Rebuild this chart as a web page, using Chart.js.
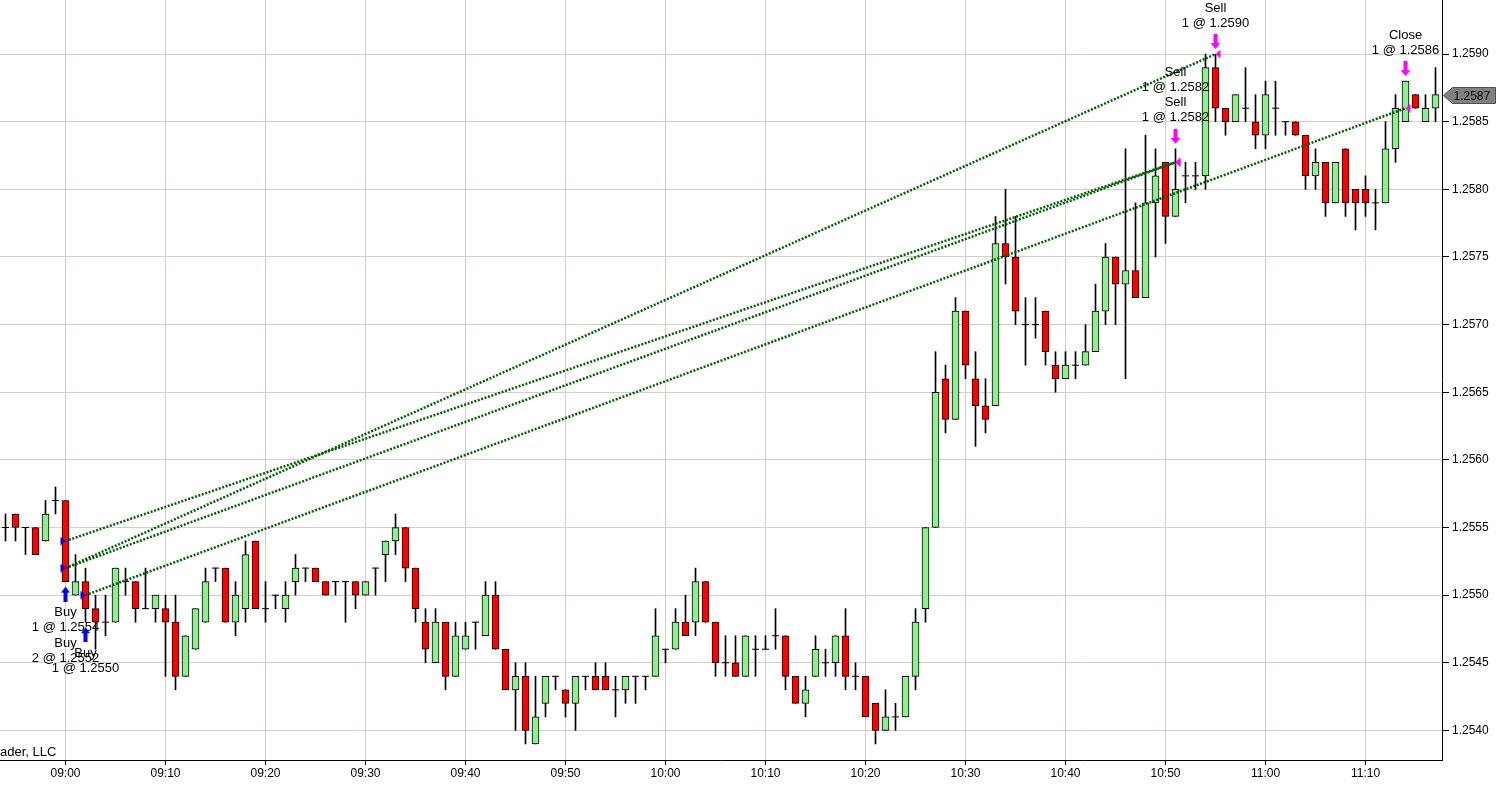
<!DOCTYPE html>
<html>
<head>
<meta charset="utf-8">
<title>1 minute chart</title>
<script src="https://cdn.jsdelivr.net/npm/chart.js@4/dist/chart.umd.min.js"></script>
<style>
  html, body { margin: 0; padding: 0; background: #fff; overflow: hidden; }
  #wrap { width: 1497px; height: 790px; }
</style>
</head>
<body>
<div id="wrap"><canvas id="myChart"></canvas></div>
<script>
// 1 minute bars, 08:54 - 11:17
const times = [
  '08:54','08:55','08:56','08:57','08:58','08:59',
  '09:00','09:01','09:02','09:03','09:04','09:05','09:06','09:07','09:08','09:09',
  '09:10','09:11','09:12','09:13','09:14','09:15','09:16','09:17','09:18','09:19',
  '09:20','09:21','09:22','09:23','09:24','09:25','09:26','09:27','09:28','09:29',
  '09:30','09:31','09:32','09:33','09:34','09:35','09:36','09:37','09:38','09:39',
  '09:40','09:41','09:42','09:43','09:44','09:45','09:46','09:47','09:48','09:49',
  '09:50','09:51','09:52','09:53','09:54','09:55','09:56','09:57','09:58','09:59',
  '10:00','10:01','10:02','10:03','10:04','10:05','10:06','10:07','10:08','10:09',
  '10:10','10:11','10:12','10:13','10:14','10:15','10:16','10:17','10:18','10:19',
  '10:20','10:21','10:22','10:23','10:24','10:25','10:26','10:27','10:28','10:29',
  '10:30','10:31','10:32','10:33','10:34','10:35','10:36','10:37','10:38','10:39',
  '10:40','10:41','10:42','10:43','10:44','10:45','10:46','10:47','10:48','10:49',
  '10:50','10:51','10:52','10:53','10:54','10:55','10:56','10:57','10:58','10:59',
  '11:00','11:01','11:02','11:03','11:04','11:05','11:06','11:07','11:08','11:09',
  '11:10','11:11','11:12','11:13','11:14','11:15','11:16','11:17'
];
const opens = [
  1.2555,1.2556,1.2555,1.2555,1.2554,1.2557,
  1.2557,1.2550,1.2551,1.2549,1.2548,1.2548,1.2551,1.2551,1.2549,1.2549,
  1.2549,1.2548,1.2544,1.2546,1.2548,1.2552,1.2552,1.2548,1.2549,1.2554,
  1.2549,1.2550,1.2549,1.2551,1.2552,1.2552,1.2551,1.2551,1.2551,1.2551,
  1.2550,1.2552,1.2553,1.2554,1.2555,1.2552,1.2548,1.2545,1.2548,1.2544,
  1.2546,1.2548,1.2547,1.2550,1.2546,1.2543,1.2544,1.2539,1.2542,1.2544,
  1.2543,1.2542,1.2544,1.2544,1.2544,1.2543,1.2543,1.2544,1.2544,1.2544,
  1.2546,1.2546,1.2548,1.2548,1.2551,1.2548,1.2545,1.2545,1.2544,1.2546,
  1.2546,1.2547,1.2547,1.2544,1.2542,1.2544,1.2545,1.2545,1.2547,1.2544,
  1.2544,1.2542,1.2540,1.2541,1.2541,1.2544,1.2549,1.2555,1.2566,1.2563,
  1.2571,1.2566,1.2564,1.2564,1.2576,1.2575,1.2570,1.2570,1.2571,1.2567,
  1.2566,1.2567,1.2567,1.2568,1.2571,1.2575,1.2573,1.2574,1.2572,1.2579,
  1.2582,1.2578,1.2581,1.2581,1.2581,1.2589,1.2586,1.2585,1.2586,1.2585,
  1.2584,1.2586,1.2585,1.2585,1.2584,1.2581,1.2582,1.2579,1.2583,1.2580,
  1.2580,1.2579,1.2579,1.2583,1.2585,1.2587,1.2585,1.2586
];
const highs = [
  1.2556,1.2556,1.2555,1.2555,1.2557,1.2558,
  1.2557,1.2553,1.2552,1.2550,1.2550,1.2552,1.2552,1.2551,1.2552,1.2550,
  1.2550,1.2550,1.2547,1.2549,1.2552,1.2552,1.2552,1.2551,1.2554,1.2554,
  1.2551,1.2550,1.2551,1.2553,1.2552,1.2552,1.2551,1.2551,1.2551,1.2551,
  1.2551,1.2552,1.2554,1.2556,1.2555,1.2552,1.2549,1.2549,1.2548,1.2548,
  1.2548,1.2548,1.2551,1.2551,1.2546,1.2545,1.2545,1.2544,1.2544,1.2544,
  1.2543,1.2544,1.2544,1.2545,1.2545,1.2544,1.2544,1.2544,1.2544,1.2549,
  1.2546,1.2549,1.2550,1.2552,1.2551,1.2548,1.2547,1.2547,1.2547,1.2547,
  1.2547,1.2549,1.2547,1.2544,1.2544,1.2547,1.2546,1.2547,1.2549,1.2545,
  1.2544,1.2542,1.2543,1.2542,1.2544,1.2549,1.2555,1.2568,1.2567,1.2572,
  1.2571,1.2568,1.2566,1.2578,1.2580,1.2578,1.2572,1.2572,1.2571,1.2568,
  1.2568,1.2568,1.2570,1.2573,1.2576,1.2575,1.2583,1.2579,1.2584,1.2583,
  1.2582,1.2583,1.2582,1.2582,1.2590,1.2590,1.2586,1.2587,1.2589,1.2587,
  1.2588,1.2588,1.2585,1.2585,1.2584,1.2583,1.2582,1.2582,1.2583,1.2580,
  1.2581,1.2580,1.2585,1.2587,1.2588,1.2587,1.2587,1.2589
];
const lows = [
  1.2554,1.2554,1.2553,1.2553,1.2554,1.2556,
  1.2551,1.2550,1.2548,1.2546,1.2547,1.2548,1.2550,1.2548,1.2549,1.2548,
  1.2544,1.2543,1.2544,1.2546,1.2548,1.2551,1.2548,1.2547,1.2548,1.2549,
  1.2548,1.2549,1.2548,1.2550,1.2551,1.2551,1.2550,1.2550,1.2548,1.2549,
  1.2550,1.2550,1.2551,1.2553,1.2551,1.2548,1.2545,1.2545,1.2543,1.2544,
  1.2546,1.2546,1.2547,1.2546,1.2543,1.2540,1.2539,1.2539,1.2541,1.2543,
  1.2541,1.2540,1.2543,1.2543,1.2543,1.2541,1.2542,1.2542,1.2543,1.2544,
  1.2545,1.2546,1.2547,1.2547,1.2548,1.2544,1.2544,1.2544,1.2544,1.2544,
  1.2546,1.2546,1.2543,1.2542,1.2541,1.2544,1.2544,1.2544,1.2543,1.2543,
  1.2541,1.2539,1.2540,1.2540,1.2541,1.2543,1.2548,1.2555,1.2562,1.2563,
  1.2566,1.2561,1.2562,1.2564,1.2573,1.2570,1.2567,1.2569,1.2567,1.2565,
  1.2566,1.2566,1.2567,1.2568,1.2570,1.2570,1.2566,1.2572,1.2572,1.2575,
  1.2576,1.2578,1.2579,1.2580,1.2580,1.2585,1.2584,1.2585,1.2585,1.2583,
  1.2583,1.2584,1.2584,1.2584,1.2580,1.2580,1.2578,1.2579,1.2578,1.2577,
  1.2578,1.2577,1.2579,1.2582,1.2585,1.2586,1.2585,1.2585
];
const closes = [
  1.2555,1.2555,1.2555,1.2553,1.2556,1.2557,
  1.2551,1.2551,1.2549,1.2548,1.2548,1.2552,1.2551,1.2549,1.2549,1.2550,
  1.2548,1.2544,1.2547,1.2549,1.2551,1.2552,1.2548,1.2550,1.2553,1.2549,
  1.2549,1.2550,1.2550,1.2552,1.2552,1.2551,1.2550,1.2551,1.2551,1.2550,
  1.2551,1.2552,1.2554,1.2555,1.2552,1.2549,1.2546,1.2548,1.2544,1.2547,
  1.2547,1.2548,1.2550,1.2546,1.2543,1.2544,1.2540,1.2541,1.2544,1.2544,
  1.2542,1.2544,1.2544,1.2543,1.2543,1.2543,1.2544,1.2544,1.2544,1.2547,
  1.2546,1.2548,1.2547,1.2551,1.2548,1.2545,1.2545,1.2544,1.2547,1.2546,
  1.2546,1.2547,1.2544,1.2542,1.2543,1.2546,1.2545,1.2547,1.2544,1.2544,
  1.2541,1.2540,1.2541,1.2541,1.2544,1.2548,1.2555,1.2565,1.2563,1.2571,
  1.2567,1.2564,1.2563,1.2576,1.2575,1.2571,1.2570,1.2570,1.2568,1.2566,
  1.2567,1.2567,1.2568,1.2571,1.2575,1.2573,1.2574,1.2572,1.2579,1.2581,
  1.2578,1.2580,1.2581,1.2581,1.2589,1.2586,1.2585,1.2587,1.2586,1.2584,
  1.2587,1.2586,1.2585,1.2584,1.2581,1.2582,1.2579,1.2582,1.2579,1.2579,
  1.2579,1.2579,1.2583,1.2586,1.2588,1.2586,1.2586,1.2587
];

const timeTicks = ['09:00','09:10','09:20','09:30','09:40','09:50','10:00',
                   '10:10','10:20','10:30','10:40','10:50','11:00','11:10'];
const priceTicks = [1.2540,1.2545,1.2550,1.2555,1.2560,1.2565,
                    1.2570,1.2575,1.2580,1.2585,1.2590];

// executions
const entries = [
  { time: '09:00', side: 'Buy', qty: 1, price: 1.2554 },
  { time: '09:00', side: 'Buy', qty: 2, price: 1.2552 },
  { time: '09:02', side: 'Buy', qty: 1, price: 1.2550 }
];
const exits = [
  { time: '10:51', side: 'Sell', qty: 1, price: 1.2582 },
  { time: '10:51', side: 'Sell', qty: 1, price: 1.2582 },
  { time: '10:55', side: 'Sell', qty: 1, price: 1.2590 },
  { time: '11:14', side: 'Close', qty: 1, price: 1.2586 }
];
// [entry index, exit index]
const tradePairs = [[0, 0], [1, 1], [1, 2], [2, 3]];

const FONT = '"Liberation Sans", Arial, sans-serif';
const GRID = '#d4d0c8';
const UP = '#90ee90';
const DOWN = '#ff0000';
const TRADE_LINE = '#006000';

function toMin(t) {
    const p = t.split(':');
    return +p[0] * 60 + +p[1];
}

// small sprites used as point styles
function sprite(w, h, draw) {
    const c = document.createElement('canvas');
    c.width = w; c.height = h;
    draw(c.getContext('2d'));
    return c;
}
// tip sits at the sprite centre
const entryTri = sprite(12, 9, g => {
    g.fillStyle = '#0000ff';
    g.beginPath(); g.moveTo(1, 0); g.lineTo(6, 4.5); g.lineTo(1, 9); g.closePath(); g.fill();
});
const exitTri = sprite(12, 9, g => {
    g.fillStyle = '#ff00ff';
    g.beginPath(); g.moveTo(11, 0); g.lineTo(6, 4.5); g.lineTo(11, 9); g.closePath(); g.fill();
});
// arrow 5px under the bar low (centre of sprite = bar low)
const upArrow = sprite(11, 40, g => {
    g.fillStyle = '#0000ff';
    g.beginPath(); g.moveTo(5.5, 25); g.lineTo(10, 31); g.lineTo(1, 31); g.closePath(); g.fill();
    g.fillRect(3.5, 31, 4, 9);
});
// arrow 5px above the bar high
const downArrow = sprite(11, 40, g => {
    g.fillStyle = '#ff00ff';
    g.fillRect(3.5, 0, 4, 9);
    g.beginPath(); g.moveTo(0.5, 9); g.lineTo(10.5, 9); g.lineTo(5.5, 15); g.closePath(); g.fill();
});

// candle pieces
const wickData = [], bodyData = [], bodyColors = [], dojiData = [];
times.forEach((t, i) => {
    const x = toMin(t);
    wickData.push({ x: x, y: [lows[i], highs[i]] });
    if (opens[i] === closes[i]) {
        dojiData.push({ x: x, y: closes[i] });
    } else {
        bodyData.push({ x: x, y: [Math.min(opens[i], closes[i]), Math.max(opens[i], closes[i])] });
        bodyColors.push(closes[i] > opens[i] ? UP : DOWN);
    }
});

const uniq = arr => arr.filter((v, i) => arr.indexOf(v) === i);
const entryArrows = uniq(entries.map(e => e.time)).map(t => ({ x: toMin(t), y: lows[times.indexOf(t)] }));
const exitArrows = uniq(exits.map(e => e.time)).map(t => ({ x: toMin(t), y: highs[times.indexOf(t)] }));

const tradeLines = tradePairs.map(p => ({
    type: 'line',
    data: [
        { x: toMin(entries[p[0]].time), y: entries[p[0]].price },
        { x: toMin(exits[p[1]].time), y: exits[p[1]].price }
    ],
    borderColor: TRADE_LINE,
    borderWidth: 2.5,
    borderDash: [2, 1.6],
    pointRadius: 0,
    fill: false,
    order: 1
}));

/* labels under/over the arrows, watermark and last price tag */
const tradeText = {
    id: 'tradeText',
    afterDatasetsDraw(chart) {
        const { ctx, scales: { x, y } } = chart;
        ctx.save();
        ctx.font = '13px ' + FONT;
        ctx.fillStyle = '#000';
        ctx.textAlign = 'center';
        ctx.textBaseline = 'middle';
        let seen = {};
        entries.forEach(e => {
            const k = seen[e.time] = (seen[e.time] === undefined ? 0 : seen[e.time] + 1);
            const px = x.getPixelForValue(toMin(e.time));
            const base = y.getPixelForValue(lows[times.indexOf(e.time)]) + 20 + k * 31;
            ctx.fillText(e.side, px, base + 11);
            ctx.fillText(e.qty + ' @ ' + e.price.toFixed(4), px, base + 26);
        });
        seen = {};
        exits.forEach(e => {
            const k = seen[e.time] = (seen[e.time] === undefined ? 0 : seen[e.time] + 1);
            const px = x.getPixelForValue(toMin(e.time));
            const base = y.getPixelForValue(highs[times.indexOf(e.time)]) - 20 - k * 30;
            ctx.fillText(e.qty + ' @ ' + e.price.toFixed(4), px, base - 11);
            ctx.fillText(e.side, px, base - 26);
        });
        // clipped copyright text in the corner
        ctx.textAlign = 'left';
        ctx.fillText('ader, LLC', 0, chart.chartArea.bottom - 8);
        ctx.restore();
    },
    afterDraw(chart) {
        const { ctx, chartArea, scales: { y } } = chart;
        const last = closes[closes.length - 1];
        const py = Math.round(y.getPixelForValue(last)) + 0.5;
        const x0 = chartArea.right + 1.5;
        const x1 = chart.width - 1.5;
        ctx.save();
        ctx.beginPath();
        ctx.moveTo(x0, py);
        ctx.lineTo(x0 + 9, py - 8);
        ctx.lineTo(x1, py - 8);
        ctx.lineTo(x1, py + 8);
        ctx.lineTo(x0 + 9, py + 8);
        ctx.closePath();
        ctx.fillStyle = '#808080';
        ctx.fill();
        ctx.strokeStyle = '#505050';
        ctx.lineWidth = 1;
        ctx.stroke();
        ctx.fillStyle = '#000';
        ctx.font = '12px ' + FONT;
        ctx.textAlign = 'left';
        ctx.textBaseline = 'middle';
        ctx.fillText(last.toFixed(4), x0 + 10, py + 1);
        ctx.restore();
    }
};

// no label padding, the chart area runs to the canvas edges
function noPad(s) {
    s.paddingLeft = 0; s.paddingRight = 0;
    s.paddingTop = 0; s.paddingBottom = 0;
}

Chart.defaults.font.family = FONT;
Chart.defaults.font.size = 12;
Chart.defaults.color = '#000';

var ctx = document.getElementById('myChart').getContext('2d');
var chart = new Chart(ctx, {
    type: 'bar',
    data: {
        datasets: [
            {
                type: 'scatter', data: entries.map(e => ({ x: toMin(e.time), y: e.price })),
                pointStyle: entryTri, pointRadius: 5, order: 0
            },
            {
                type: 'scatter', data: exits.map(e => ({ x: toMin(e.time), y: e.price })),
                pointStyle: exitTri, pointRadius: 5, order: 0
            },
            { type: 'scatter', data: entryArrows, pointStyle: upArrow, pointRadius: 5, order: 0 },
            { type: 'scatter', data: exitArrows, pointStyle: downArrow, pointRadius: 5, order: 0 },
            ...tradeLines,
            {
                type: 'scatter', data: dojiData,
                pointStyle: 'line', pointRadius: 3.5,
                pointBorderColor: '#000', pointBorderWidth: 1, order: 2
            },
            {
                type: 'bar', data: bodyData,
                backgroundColor: bodyColors, borderColor: '#000', borderWidth: 1,
                borderSkipped: false, barThickness: 7, grouped: false, order: 3
            },
            {
                type: 'bar', data: wickData,
                backgroundColor: '#000', borderWidth: 0,
                barThickness: 1, grouped: false, order: 4
            }
        ]
    },
    options: {
        responsive: true,
        maintainAspectRatio: false,
        animation: false,
        devicePixelRatio: 1,
        layout: { padding: 0, autoPadding: false },
        events: [],
        plugins: { legend: { display: false }, tooltip: { enabled: false } },
        scales: {
            x: {
                type: 'linear',
                offset: false,
                min: 533.45,
                max: 677.65,
                afterFit: s => { s.height = 30; noPad(s); },
                afterBuildTicks: s => { s.ticks = timeTicks.map(t => ({ value: toMin(t) })); },
                grid: { color: GRID, tickColor: '#000', tickLength: 5, offset: false },
                border: { color: '#000' },
                ticks: {
                    padding: 1, autoSkip: false, maxRotation: 0,
                    callback: (v, i) => timeTicks[i]
                }
            },
            y: {
                type: 'linear',
                position: 'right',
                min: 1.2537812,
                max: 1.2594,
                afterFit: s => { s.width = 55; noPad(s); },
                afterBuildTicks: s => { s.ticks = priceTicks.map(v => ({ value: v })); },
                grid: { color: GRID, tickColor: '#000', tickLength: 7 },
                border: { color: '#000' },
                ticks: { padding: 3, callback: v => v.toFixed(4) }
            }
        }
    },
    plugins: [tradeText]
});
</script>
</body>
</html>
